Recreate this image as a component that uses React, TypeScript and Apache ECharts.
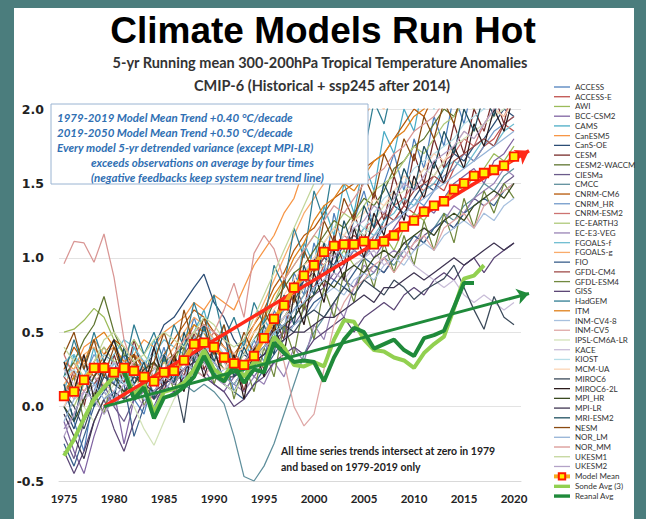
import React, { useEffect, useRef } from "react";
import * as echarts from "echarts";

const years = [1975,1976,1977,1978,1979,1980,1981,1982,1983,1984,1985,1986,1987,1988,1989,1990,1991,1992,1993,1994,1995,1996,1997,1998,1999,2000,2001,2002,2003,2004,2005,2006,2007,2008,2009,2010,2011,2012,2013,2014,2015,2016,2017,2018,2019,2020];
const xTickYears = [1975,1980,1985,1990,1995,2000,2005,2010,2015,2020];

const ACCESS = [0.15,-0.1,-0.3,0.1,0.3, 0.15,0.35,0.05,-0.05,0.2, 0.4,0.15,0.35,0.6,0.4, 0.2,0.35,0.1,0.25,0.45, 0.3,0.65,0.5,0.9,0.75, 1.1,0.9,1.3,1.05,1.25, 1.45,1.2,1.5,1.7,1.45, 1.8,1.6,1.95,1.75,2.1, 1.9,2.2,2.0,2.3,2.15, 2.4];
const ACCESS_E = [0.2,0.3,0.15,0.3,0.4, 0.3,0.2,0.35,0.3,0.2, 0.25,0.35,0.4,0.55,0.5, 0.4,0.35,0.3,0.25,0.4, 0.5,0.55,0.65,0.75,0.85, 0.8,0.95,1.05,1.1,1.05, 1.0,1.15,1.2,1.25,1.35, 1.3,1.45,1.5,1.45,1.6, 1.7,1.65,1.75,1.8,1.9, 1.85];
const AWI = [0.5,0.52,0.58,0.66,0.6, 0.45,0.35,0.3,0.2,0.15, 0.25,0.3,0.45,0.55,0.5, 0.35,0.3,0.2,0.3,0.4, 0.45,0.5,0.55,0.65,0.75, 0.85,0.9,0.95,1.05,0.95, 1.0,1.1,1.15,1.05,1.2, 1.3,1.25,1.35,1.4,1.5, 1.45,1.55,1.6,1.7,1.65, 1.75];
const BCC_CSM2 = [-0.1,-0.3,-0.45,-0.2,0.0, 0.1,-0.25,0.05,0.1,0.2, 0.05,0.1,0.2,0.3,0.25, 0.15,0.1,0.2,0.3,0.2, 0.3,0.4,0.5,0.6,0.7, 0.8,0.9,0.85,0.95,1.05, 1.1,1.0,1.1,1.2,1.3, 1.25,1.35,1.3,1.4,1.5, 1.55,1.6,1.5,1.65,1.7, 1.8];
const CAMS = [0.1,0.35,0.15,0.4,0.1, 0.3,0.15,0.4,0.25,0.45, 0.2,0.35,0.15,0.5,0.65, 0.4,0.55,0.25,0.45,0.3, 0.6,0.45,0.85,0.7,1.1, 0.95,1.35,1.15,1.5,1.3, 1.65,1.45,1.85,1.7,2.0, 1.85,2.2,2.0,2.3,2.15, 2.4,2.3,2.55,2.4,2.65, 2.7];
const CanESM5 = [0.3,0.25,0.4,0.45,0.35, 0.4,0.3,0.35,0.45,0.4, 0.5,0.55,0.6,0.7,0.65, 0.75,0.7,0.65,0.8,0.95, 1.05,1.15,1.3,1.4,1.6, 1.8,1.95,2.1,2.2,2.3, 2.4,2.45,2.55,2.6,2.7, 2.75,2.8,2.9,2.95,3.0, 3.05,3.1,3.2,3.25,3.3, 3.4];
const CanS_OE = [0.0,-0.15,0.05,0.2,0.3, 0.25,0.35,0.3,0.2,0.4, 0.55,0.6,0.7,0.8,0.89, 0.7,0.6,0.45,0.35,0.3, 0.4,0.5,0.6,0.7,0.85, 0.9,1.0,0.95,1.1,1.2, 1.15,1.1,1.25,1.35,1.3, 1.4,1.5,1.45,1.6,1.7, 1.65,1.75,1.8,1.9,2.0, 1.95];
const CESM = [0.05,0.25,0.0,0.3,0.1, 0.35,0.15,0.45,0.2,0.3, 0.1,0.35,0.2,0.5,0.25, 0.4,0.15,0.35,0.1,0.4, 0.25,0.6,0.45,0.85,0.65, 1.0,0.8,1.15,0.95,1.3, 1.1,1.45,1.25,1.55,1.35, 1.7,1.5,1.8,1.6,1.9, 1.7,2.0,1.85,2.1,1.9, 2.2];
const CESM2_WACCM = [0.2,0.3,0.45,0.55,0.74, 0.5,0.35,0.3,0.25,0.2, 0.3,0.35,0.4,0.5,0.45, 0.35,0.25,0.3,0.35,0.45, 0.55,0.7,0.8,0.9,0.95, 1.05,1.15,1.25,1.2,1.3, 1.4,1.35,1.45,1.6,1.65, 1.75,1.8,1.9,2.0,1.95, 2.1,2.2,2.15,2.3,2.4, 2.35];
const CIESMa = [-0.2,-0.35,-0.1,0.05,0.15, 0.0,-0.1,0.05,0.15,0.1, 0.2,0.15,0.25,0.35,0.3, 0.2,0.15,0.1,0.2,0.3, 0.35,0.45,0.5,0.55,0.65, 0.75,0.8,0.9,0.85,0.8, 0.9,0.95,0.9,1.0,1.1, 1.05,1.15,1.2,1.25,1.2, 1.3,1.4,1.35,1.4,1.5, 1.55];
const CMCC = [0.1,0.2,0.3,0.25,0.35, 0.3,0.2,0.25,0.3,0.35, 0.2,0.25,0.15,0.1,0.15, 0.1,0.02,-0.2,-0.47,-0.5, -0.4,-0.25,-0.05,0.15,0.35, 0.5,0.6,0.7,0.8,0.75, 0.85,0.9,1.0,0.95,1.05, 1.15,1.1,1.2,1.3,1.25, 1.35,1.4,1.5,1.45,1.55, 1.6];
const CNRM_CM6 = [0.25,0.4,0.3,0.2,0.35, 0.45,0.4,0.3,0.2,0.25, 0.35,0.45,0.55,0.65,0.6, 0.5,0.4,0.35,0.45,0.55, 0.65,0.8,0.9,1.05,1.15, 1.2,1.3,1.4,1.45,1.5, 1.6,1.65,1.7,1.8,1.9, 2.0,1.95,2.1,2.2,2.25, 2.3,2.4,2.35,2.5,2.6, 2.65];
const CNRM_HR = [0.0,0.1,0.2,0.35,0.25, 0.2,0.15,0.25,0.3,0.2, 0.15,0.2,0.3,0.4,0.35, 0.45,0.4,0.3,0.25,0.3, 0.4,0.5,0.6,0.65,0.75, 0.85,0.9,1.0,1.1,1.05, 1.0,1.1,1.2,1.25,1.3, 1.4,1.35,1.45,1.55,1.6, 1.7,1.65,1.75,1.85,1.9, 1.95];
const CNRM_ESM2 = [0.35,0.2,0.1,0.2,0.3, 0.25,0.3,0.2,0.1,0.05, 0.15,0.25,0.35,0.3,0.4, 0.5,0.45,0.35,0.3,0.4, 0.5,0.6,0.7,0.75,0.9, 1.0,0.95,1.05,1.15,1.1, 1.2,1.25,1.2,1.35,1.4, 1.5,1.45,1.55,1.65,1.7, 1.8,1.75,1.9,2.0,1.95, 2.1];
const EC_EARTH3 = [0.1,0.0,0.15,0.3,0.4, 0.3,0.35,0.45,0.35,0.25, 0.3,0.2,0.25,0.35,0.45, 0.4,0.3,0.25,0.35,0.5, 0.6,0.7,0.85,0.95,1.05, 1.15,1.1,1.2,1.3,1.25, 1.35,1.45,1.5,1.55,1.65, 1.75,1.7,1.8,1.9,1.95, 2.05,2.0,2.15,2.25,2.2, 2.35];
const EC_E3_VEG = [-0.15,-0.05,0.1,0.2,0.1, 0.0,0.1,0.2,0.15,0.05, 0.1,0.2,0.25,0.3,0.4, 0.3,0.2,0.15,0.1,0.2, 0.15,0.3,0.2,0.4,0.3, 0.55,0.45,0.7,0.6,0.8, 0.95,0.9,1.0,1.05,1.0, 1.1,1.2,1.15,1.25,1.35, 1.3,1.4,1.45,1.5,1.6, 1.55];
const FGOALS_f = [0.3,0.35,0.25,0.15,0.25, 0.35,0.45,0.4,0.3,0.35, 0.45,0.4,0.35,0.45,0.55, 0.45,0.35,0.3,0.25,0.35, 0.45,0.55,0.65,0.8,0.85, 0.95,1.05,1.1,1.0,1.1, 1.2,1.15,1.25,1.3,1.4, 1.35,1.45,1.5,1.6,1.65, 1.6,1.7,1.8,1.75,1.85, 1.9];
const FGOALS_g = [0.15,0.25,0.35,0.4,0.3, 0.2,0.25,0.35,0.3,0.2, 0.3,0.4,0.5,0.6,0.55, 0.45,0.4,0.35,0.4,0.55, 0.7,0.85,1.0,1.15,1.3, 1.4,1.5,1.6,1.75,1.85, 1.95,2.05,2.0,2.15,2.25, 2.2,2.35,2.45,2.5,2.55, 2.65,2.75,2.7,2.85,2.95, 2.9];
const FIO = [-0.25,-0.4,-0.2,0.0,0.1, 0.2,0.15,-0.2,0.0,0.1, 0.2,0.25,0.2,0.3,0.35, 0.25,0.15,0.1,0.05,0.15, 0.25,0.35,0.45,0.55,0.6, 0.7,0.75,0.85,0.8,0.9, 1.0,0.95,0.9,1.0,1.05, 1.15,1.1,1.2,1.25,1.2, 1.3,1.35,1.4,1.35,1.45, 1.5];
const GFDL_CM4 = [0.2,0.1,0.05,0.15,0.25, 0.2,0.3,0.35,0.25,0.15, 0.2,0.25,0.35,0.45,0.5, 0.4,0.3,0.25,0.3,0.35, 0.4,0.5,0.6,0.7,0.8, 0.9,1.0,1.05,1.1,1.15, 1.1,1.2,1.3,1.25,1.35, 1.45,1.5,1.55,1.5,1.65, 1.7,1.75,1.8,1.75,1.9, 1.95];
const GFDL_ESM4 = [0.05,0.2,-0.1,0.1,-0.05, 0.25,0.05,0.3,0.0,0.2, 0.35,0.1,0.4,0.2,0.45, 0.15,0.35,0.05,0.3,0.1, 0.4,0.2,0.55,0.35,0.7, 0.45,0.8,0.6,0.9,0.7, 1.0,0.8,1.1,0.9,1.15, 0.95,1.25,1.05,1.3,1.1, 1.4,1.2,1.45,1.3,1.5, 1.4];
const GISS = [-0.3,-0.45,-0.3,-0.1,0.05, -0.15,-0.3,-0.1,0.05,0.0, 0.15,0.1,0.2,0.25,0.2, 0.15,0.1,0.0,0.05,0.15, 0.2,0.3,0.35,0.4,0.35, 0.45,0.5,0.55,0.6,0.5, 0.6,0.65,0.7,0.65,0.75, 0.8,0.75,0.85,0.9,0.85, 0.95,1.0,0.9,1.0,1.05, 1.1];
const HadGEM = [0.2,0.45,0.25,0.5,0.3, 0.45,0.25,0.55,0.35,0.5, 0.3,0.55,0.4,0.7,0.5, 0.75,0.45,0.6,0.4,0.7, 0.55,0.95,0.8,1.2,1.0, 1.45,1.25,1.65,1.5,1.85, 1.7,2.05,1.9,2.2,2.05, 2.35,2.2,2.5,2.35,2.6, 2.5,2.75,2.6,2.9,2.8, 3.0];
const ITM = [0.1,0.2,0.3,0.45,0.5, 0.4,0.3,0.35,0.25,0.15, 0.25,0.35,0.45,0.55,0.5, 0.4,0.35,0.3,0.35,0.5, 0.6,0.75,0.85,1.0,1.1, 1.25,1.35,1.4,1.5,1.45, 1.55,1.65,1.7,1.8,1.85, 1.95,2.0,2.1,2.15,2.2, 2.3,2.35,2.4,2.5,2.55, 2.6];
const INM_CV4_8 = [0.0,0.1,0.05,0.15,0.1, 0.05,0.15,0.25,0.2,0.1, 0.2,0.3,0.25,0.35,0.3, 0.2,0.25,0.3,0.2,0.25, 0.3,0.4,0.45,0.55,0.6, 0.65,0.75,0.8,0.75,0.85, 0.9,0.85,0.95,1.0,0.95, 1.05,1.1,1.05,1.15,1.2, 1.25,1.2,1.3,1.25,1.35, 1.4];
const INM_CV5 = [0.15,0.05,0.1,0.2,0.15, 0.1,0.2,0.3,0.25,0.15, 0.1,0.2,0.3,0.25,0.2, 0.3,0.35,0.25,0.2,0.3, 0.4,0.45,0.3,0.0,-0.13, -0.05,0.25,0.55,0.7,0.8, 0.85,0.95,1.0,0.9,1.0, 1.1,1.15,1.05,1.2,1.25, 1.3,1.2,1.35,1.4,1.45, 1.5];
const IPSL_CM6A_LR = [0.05,0.15,0.0,-0.1,0.05, 0.15,0.1,0.0,-0.15,-0.26, -0.1,0.05,0.15,0.2,0.3, 0.25,0.15,0.1,0.2,0.3, 0.4,0.5,0.6,0.7,0.8, 0.9,0.95,1.05,1.1,1.2, 1.15,1.25,1.35,1.4,1.45, 1.5,1.6,1.55,1.65,1.75, 1.8,1.85,1.9,1.95,2.0, 2.05];
const KACE = [0.25,0.15,0.05,0.1,0.2, 0.3,0.2,0.1,0.15,0.25, 0.35,0.3,0.2,0.3,0.4, 0.35,0.3,0.2,0.25,0.35, 0.45,0.55,0.6,0.65,0.7, 0.8,0.85,0.9,0.85,0.95, 1.0,1.05,0.95,1.0,1.05, 0.95,0.9,0.85,0.8,0.85, 0.75,0.7,0.75,0.7,0.65, 0.7];
const KIOST = [0.2,0.25,0.15,0.25,0.35, 0.25,0.15,0.2,0.3,0.35, 0.25,0.2,0.3,0.4,0.5, 0.45,0.35,0.3,0.35,0.45, 0.5,0.6,0.7,0.8,0.9, 1.0,1.1,1.05,1.15,1.25, 1.2,1.3,1.4,1.45,1.5, 1.6,1.65,1.7,1.75,1.8, 1.9,1.95,2.0,2.05,2.1, 2.2];
const MCM_UA = [0.0,0.15,0.3,0.25,0.15, 0.2,0.3,0.2,0.1,0.15, 0.25,0.35,0.45,0.5,0.4, 0.3,0.25,0.35,0.4,0.5, 0.55,0.65,0.75,0.85,0.95, 1.0,1.1,1.2,1.15,1.25, 1.3,1.4,1.35,1.45,1.55, 1.5,1.6,1.7,1.65,1.75, 1.85,1.8,1.9,2.0,1.95, 2.05];
const MIROC6 = [0.1,0.0,-0.15,0.05,0.2, 0.15,0.1,0.2,0.15,0.05, 0.15,0.2,-0.11,0.35,0.4, 0.3,0.2,0.25,0.2,0.3, 0.35,0.45,0.55,0.5,0.6, 0.65,0.6,0.7,0.8,0.75, 0.85,0.8,0.75,0.85,0.8, 0.72,0.78,0.82,0.86,0.95, 0.8,0.65,0.52,0.74,0.6, 0.55];
const MIROC6_2L = [0.3,0.1,0.35,0.05,0.3, 0.45,0.2,0.35,0.1,0.4, 0.15,0.35,0.1,0.45,0.2, 0.4,0.15,0.35,0.05,0.4, 0.2,0.55,0.35,0.75,0.55, 0.9,0.7,1.05,0.85,1.2, 1.0,1.3,1.15,1.45,1.25, 1.55,1.4,1.65,1.5,1.75, 1.6,1.9,1.75,2.0,1.85, 2.1];
const MPI_HR = [0.0,-0.1,0.05,0.2,0.3, 0.2,0.1,0.15,0.25,0.3, 0.2,0.15,0.25,0.35,0.3, 0.25,0.2,0.15,0.25,0.35, 0.4,0.5,0.55,0.6,0.7, 0.75,0.85,0.8,0.9,0.95, 0.9,1.0,1.05,1.0,1.1, 1.15,1.2,1.15,1.25,1.3, 1.25,1.35,1.4,1.45,1.4, 1.5];
const MPI_LR = [-0.05,-0.2,-0.35,-0.1,0.05, 0.1,0.05,0.1,0.15,0.1, 0.15,0.2,0.25,0.3,0.3, 0.25,0.2,0.2,0.25,0.3, 0.35,0.4,0.45,0.5,0.5, 0.55,0.6,0.6,0.65,0.7, 0.75,0.7,0.8,0.8,0.85, 0.9,0.85,0.9,0.95,1.0, 0.95,1.0,1.05,1.1,1.05, 1.1];
const MRI_ESM2 = [0.15,-0.1,0.2,0.0,0.25, 0.05,0.4,0.15,0.3,0.05, 0.35,0.15,0.5,0.3,0.55, 0.3,0.5,0.2,0.4,0.25, 0.55,0.35,0.75,0.55,0.95, 0.75,1.1,0.9,1.25,1.05, 1.35,1.2,1.5,1.35,1.6, 1.45,1.75,1.6,1.85,1.7, 2.0,1.85,2.1,1.95,2.25, 2.1];
const NESM = [0.35,0.5,0.25,0.45,0.2, 0.4,0.2,0.35,0.1,0.3, 0.5,0.3,0.65,0.4,0.6, 0.35,0.55,0.3,0.5,0.35, 0.65,0.5,0.85,0.7,1.05, 0.9,1.25,1.1,1.4,1.25, 1.55,1.4,1.7,1.55,1.8, 1.65,1.95,1.8,2.05,1.9, 2.2,2.05,2.3,2.2,2.45, 2.35];
const NOR_LM = [-0.1,0.05,0.2,0.15,0.05, 0.1,0.2,0.15,0.05,0.0, 0.1,0.2,0.3,0.25,0.35, 0.3,0.2,0.15,0.25,0.35, 0.4,0.5,0.55,0.65,0.7, 0.8,0.85,0.95,1.0,1.05, 1.1,1.15,1.2,1.25,1.3, 1.35,1.4,1.45,1.5,1.55, 1.6,1.65,1.7,1.75,1.8, 1.85];
const NOR_MM = [0.96,1.11,1.10,0.97,1.16, 0.87,0.45,0.25,0.2,0.15, 0.25,0.35,0.45,0.5,0.55, 0.5,0.65,0.83,0.6,1.03, 1.15,1.06,0.85,0.95,1.05, 1.15,1.25,1.35,1.3,1.4, 1.5,1.55,1.6,1.7,1.75, 1.85,1.9,1.95,2.05,2.1, 2.15,2.25,2.3,2.35,2.45, 2.5];
const UKESM1 = [0.4,0.3,0.2,0.3,0.45, 0.5,0.4,0.3,0.35,0.45, 0.5,0.45,0.4,0.5,0.6, 0.55,0.45,0.4,0.45,0.6, 0.75,0.9,1.05,1.2,1.35, 1.5,1.65,1.75,1.85,1.95, 2.05,2.15,2.2,2.3,2.35, 2.45,2.55,2.65,2.7,2.8, 2.85,2.95,3.05,3.1,3.15, 3.25];
const UKESM2 = [-0.2,-0.05,0.1,0.05,-0.05, 0.05,0.15,0.1,0.0,0.1, 0.2,0.15,0.25,0.35,0.3, 0.2,0.15,0.25,0.3,0.4, 0.5,0.6,0.7,0.8,0.85, 0.95,1.05,1.0,1.1,1.2, 1.25,1.35,1.3,1.4,1.5, 1.45,1.55,1.65,1.7,1.75, 1.85,1.8,1.9,2.0,2.05, 2.15];

const modelNames = ["ACCESS","ACCESS-E","AWI","BCC-CSM2","CAMS","CanESM5","CanS-OE","CESM","CESM2-WACCM","CIESMa","CMCC","CNRM-CM6","CNRM_HR","CNRM-ESM2","EC-EARTH3","EC-E3-VEG","FGOALS-f","FGOALS-g","FIO","GFDL-CM4","GFDL-ESM4","GISS","HadGEM","ITM","INM-CV4-8","INM-CV5","IPSL-CM6A-LR","KACE","KIOST","MCM-UA","MIROC6","MIROC6-2L","MPI_HR","MPI-LR","MRI-ESM2","NESM","NOR_LM","NOR_MM","UKESM1","UKESM2"];
const modelValues = [ACCESS,ACCESS_E,AWI,BCC_CSM2,CAMS,CanESM5,CanS_OE,CESM,CESM2_WACCM,CIESMa,CMCC,CNRM_CM6,CNRM_HR,CNRM_ESM2,EC_EARTH3,EC_E3_VEG,FGOALS_f,FGOALS_g,FIO,GFDL_CM4,GFDL_ESM4,GISS,HadGEM,ITM,INM_CV4_8,INM_CV5,IPSL_CM6A_LR,KACE,KIOST,MCM_UA,MIROC6,MIROC6_2L,MPI_HR,MPI_LR,MRI_ESM2,NESM,NOR_LM,NOR_MM,UKESM1,UKESM2];
const modelColors = ["#4f81bd","#c0504d","#9bbb59","#8064a2","#4bacc6","#f79646","#2c4d75","#772c2a","#5f7530","#6b5b8a","#5f8f9c","#b65708","#729aca","#cd7371","#afc97a","#9983b5","#6fbdd1","#f9ab6b","#3a5f8b","#a04c4a","#71893f","#5c4776","#2f7d92","#e0801a","#a7c0de","#dfa7a6","#d2e2b8","#c9bdd8","#b7dee8","#fcd5b5","#3b4a5a","#2b1a1a","#3a4a20","#3f3552","#1f5060","#8a4a10","#95b3d7","#d99694","#c3d69b","#b3a2c7"];

const meanValues = [0.07,0.10,0.18,0.26,0.26, 0.23,0.26,0.24,0.20,0.17, 0.23,0.24,0.31,0.42,0.43, 0.40,0.33,0.29,0.28,0.34, 0.46,0.59,0.68,0.80,0.88, 0.95,1.04,1.08,1.09,1.09, 1.11,1.09,1.11,1.15,1.21, 1.25,1.31,1.35,1.38,1.46, 1.50,1.55,1.57,1.59,1.62, 1.68];

const sondeYears = [1975,1976,1977,1978,1979,1980,1981,1982,1983,1984,1985,1986,1987,1988,1989,1990,1991,1992,1993,1994,1995,1996,1997,1998,1999,2000,2001,2002,2003,2004,2005,2006,2007,2008,2009,2010,2011,2012,2013,2014,2015,2016,2017];
const sondeValues = [-0.33,-0.22,-0.08,0.05,0.13, 0.20,0.25,0.08,0.15,-0.04, 0.10,0.12,0.16,0.25,0.38, 0.25,0.20,0.30,0.20,0.30, 0.28,0.47,0.40,0.28,0.27, 0.30,0.27,0.45,0.58,0.57, 0.45,0.38,0.37,0.33,0.31, 0.26,0.36,0.42,0.47,0.66, 0.86,0.88,0.95];

const reanalYears = [1981,1982,1983,1984,1985,1986,1987,1988,1989,1990,1991,1992,1993,1994,1995,1996,1997,1998,1999,2000,2001,2002,2003,2004,2005,2006,2007,2008,2009,2010,2011,2012,2013,2014,2015,2016];
const reanalValues = [0.24,0.05,0.13,-0.08,0.06, 0.08,0.13,0.20,0.34,0.21, 0.17,0.27,0.16,0.25,0.23, 0.43,0.36,0.30,0.31,0.30, 0.17,0.33,0.45,0.53,0.50, 0.39,0.42,0.45,0.38,0.34, 0.46,0.48,0.51,0.67,0.83, 0.83];

const modelTrend = [[1979, 0], [2021.5, 1.72]];
const obsTrend = [[1979, 0], [2021.5, 0.76]];

const boxLines = [
  "1979-2019 Model Mean Trend +0.40 \u00B0C/decade",
  "2019-2050 Model Mean Trend +0.50 \u00B0C/decade",
  "Every model 5-yr detrended variance (except MPI-LR)",
  "exceeds observations on average by four times",
  "(negative feedbacks keep system near trend line)",
];
const noteLines = [
  "All time series trends intersect at zero in 1979",
  "and based on 1979-2019 only",
];

export default function App() {
  const ref = useRef<HTMLDivElement>(null);
  useEffect(() => {
    const chart = echarts.init(ref.current as HTMLDivElement, null, { renderer: "svg" });
    const thin = "path://M0,0H16V1.3H0Z";
    const thick = "path://M0,0H16V3.4H0Z";
    const series: any[] = modelNames.map((n, i) => ({
      type: "line",
      name: n,
      data: years.map((y, j) => [y, modelValues[i][j]]),
      symbol: "none",
      lineStyle: { color: modelColors[i], width: 1.25 },
      itemStyle: { color: modelColors[i] },
      z: 2,
      silent: true,
    }));
    series.push({
      type: "line", name: "Sonde Avg (3)",
      data: sondeYears.map((y, j) => [y, sondeValues[j]]),
      symbol: "none", lineStyle: { color: "#92d050", width: 4 }, itemStyle: { color: "#92d050" }, z: 3,
    });
    series.push({
      type: "line", name: "Reanal Avg",
      data: reanalYears.map((y, j) => [y, reanalValues[j]]),
      symbol: "none", lineStyle: { color: "#1f8a3a", width: 4 }, itemStyle: { color: "#1f8a3a" }, z: 4,
    });
    series.push({
      type: "lines", coordinateSystem: "cartesian2d", clip: false, z: 5,
      data: [{ coords: modelTrend }],
      symbol: ["none", "arrow"], symbolSize: 13,
      lineStyle: { color: "#ff2a1a", width: 3.5, opacity: 1 },
    });
    series.push({
      type: "lines", coordinateSystem: "cartesian2d", clip: false, z: 5,
      data: [{ coords: obsTrend }],
      symbol: ["none", "arrow"], symbolSize: 12,
      lineStyle: { color: "#1f8a3a", width: 3, opacity: 1 },
    });
    series.push({
      type: "line", name: "Model Mean",
      data: years.map((y, j) => [y, meanValues[j]]),
      symbol: "rect", symbolSize: 8.5, showSymbol: true,
      lineStyle: { color: "#f5ad1f", width: 4 },
      itemStyle: { color: "#ffee00", borderColor: "#ff1a00", borderWidth: 1.8 },
      z: 6,
    });

    const legendData: any[] = modelNames.map((n) => ({ name: n, icon: thin, itemStyle: { borderWidth: 0 } }));
    legendData.push({ name: "Model Mean", lineStyle: { width: 4, color: "#f5ad1f" } });
    legendData.push({ name: "Sonde Avg (3)", icon: thick, itemStyle: { borderWidth: 0 } });
    legendData.push({ name: "Reanal Avg", icon: thick, itemStyle: { borderWidth: 0 } });

    const boxFont = { fontFamily: "Lato", fontWeight: "bold", fontStyle: "italic", fontSize: 11.5, fill: "#2f6fb3" };
    const graphic: any[] = [
      { type: "text", left: "center", top: 12, style: { text: "Climate Models Run Hot", fontFamily: "Liberation Sans", fontWeight: "bold", fontSize: 37, fill: "#000" } },
      { type: "text", x: 320, y: 62, style: { text: "5-yr Running mean 300-200hPa Tropical Temperature Anomalies", fontFamily: "Lato", fontWeight: "bold", fontSize: 14.5, fill: "#333", align: "center", verticalAlign: "middle" } },
      { type: "text", x: 322, y: 85, style: { text: "CMIP-6 (Historical + ssp245 after 2014)", fontFamily: "Lato", fontWeight: "bold", fontSize: 14.5, fill: "#333", align: "center", verticalAlign: "middle" } },
      { type: "rect", z: 100, shape: { x: 51, y: 104, width: 317, height: 80 }, style: { fill: "#ffffff", stroke: "#9ab4d2", lineWidth: 1 } },
      ...boxLines.map((t, i) => ({
        type: "text", z: 101, x: i >= 3 ? 91 : 57, y: 117 + i * 15,
        style: { ...boxFont, text: t, verticalAlign: "middle" },
      })),
      ...noteLines.map((t, i) => ({
        type: "text", z: 101, x: 281, y: 451 + i * 16,
        style: { text: t, fontFamily: "Lato", fontWeight: "bold", fontSize: 10.5, fill: "#222", verticalAlign: "middle" },
      })),
    ];

    chart.setOption({
      animation: false,
      backgroundColor: "transparent",
      grid: { left: 59, top: 109, width: 462, height: 372, containLabel: false },
      xAxis: {
        type: "value", min: 1974.5, max: 2020.7,
        axisLine: { show: true, onZero: false, lineStyle: { color: "#d9d9d9", width: 1 } },
        axisTick: { show: false },
        splitLine: { show: false },
        axisLabel: {
          customValues: xTickYears, formatter: (v: number) => String(v), margin: 11,
          fontFamily: "Lato", fontWeight: "bold", fontSize: 11.5, color: "#222",
        },
      },
      yAxis: {
        type: "value", min: -0.5, max: 2, interval: 0.5,
        axisLine: { show: false }, axisTick: { show: false },
        splitLine: { show: true, lineStyle: { color: "#e3e3e3", width: 1 } },
        axisLabel: {
          formatter: (v: number) => v.toFixed(1), margin: 15,
          fontFamily: "DejaVu Sans", fontWeight: "bold", fontSize: 12.5, color: "#222",
        },
      },
      legend: {
        orient: "vertical", left: 552, top: 83, padding: 0,
        itemWidth: 16, itemHeight: 8, itemGap: 1.73, symbolKeepAspect: true,
        selectedMode: false,
        textStyle: { fontFamily: "Lato", fontSize: 8, lineHeight: 8, color: "#333", padding: 0 },
        data: legendData,
      },
      graphic,
      series,
    });
    return () => chart.dispose();
  }, []);
  return (
    <div style={{ position: "fixed", left: 0, top: 0, width: 646, height: 519, background: "#4b7d7d", overflow: "hidden" }}>
      <div style={{ position: "absolute", left: 14, top: 8, width: 620, height: 511, background: "#ffffff" }} />
      <div ref={ref} style={{ position: "absolute", left: 0, top: 0, width: 646, height: 519 }} />
    </div>
  );
}
